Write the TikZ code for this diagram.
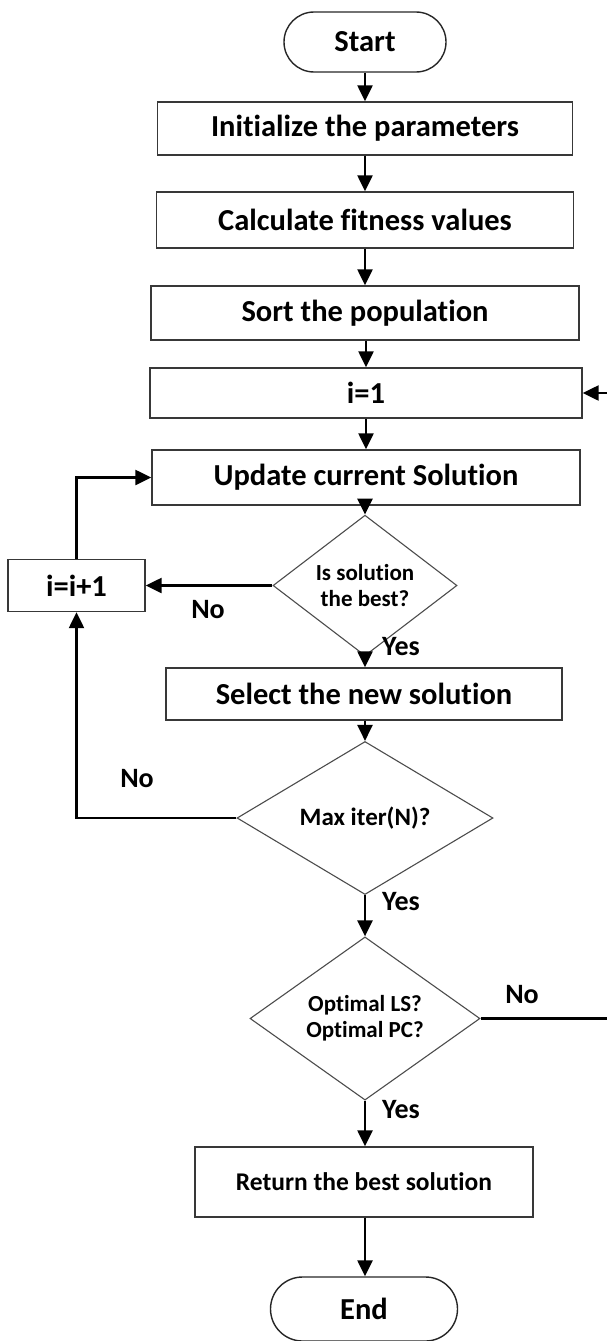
\documentclass[tikz,border=0pt]{standalone}
\usepackage{fontspec}
\setmainfont{Carlito}[Ligatures=NoCommon]
\usetikzlibrary{shapes.geometric, arrows.meta, positioning}

\begin{document}
\begin{tikzpicture}[x=1pt, y=-1pt,
    box/.style={draw=black!78, line width=1.4pt, inner sep=0pt, font=\bfseries\fontsize{30.5}{32}\selectfont},
    term/.style={box, draw=black!85, rounded corners=30pt},
    decide/.style={diamond, draw=black!70, line width=1.1pt, inner sep=0pt, align=center, font=\bfseries\fontsize{23}{26}\selectfont},
    lbl/.style={inner sep=0pt, font=\bfseries\fontsize{28}{30}\selectfont},
    conn/.style={line width=2.4pt, -{Triangle[width=15pt,length=16pt]}}]
    \useasboundingbox (0,0) rectangle (606,1341);

    \node[term, minimum width=162, minimum height=60] (start) at (365,42) {Start};
    \node[box, minimum width=415, minimum height=53] (init) at (365,128.5) {Initialize the parameters};
    \node[box, minimum width=417, minimum height=56] (calc) at (365,220) {Calculate fitness values};
    \node[box, minimum width=428, minimum height=54] (sort) at (365,313) {Sort the population};
    \node[box, minimum width=432, minimum height=50] (ione) at (366,393) {i=1};
    \node[box, minimum width=428, minimum height=55] (update) at (366,477.5) {Update current Solution};
    \node[decide, minimum width=184, minimum height=105] (best) at (365,585.5) {Is solution\\the best?};
    \node[box, minimum width=137, minimum height=52] (inc) at (76.5,585.5) {i=i+1};
    \node[box, minimum width=396, minimum height=52] (select) at (364,694) {Select the new solution};
    \node[decide, font=\bfseries\fontsize{25}{28}\selectfont, minimum width=256, minimum height=136] (maxit) at (365,818) {Max iter(N)?};
    \node[decide, minimum width=230, minimum height=137] (optim) at (365,1018.5) {Optimal LS?\\Optimal PC?};
    \node[box, font=\bfseries\fontsize{25.5}{28}\selectfont, minimum width=338, minimum height=70] (ret) at (364,1182) {Return the best solution};
    \node[term, rounded corners=32pt, minimum width=187, minimum height=64] (end) at (364,1309) {End};

    \node[lbl] (nobest) at (208,610) {No};
    \node[lbl, anchor=west] (yesbest) at (382,647) {Yes};
    \node[lbl] (nomax) at (137,779) {No};
    \node[lbl, anchor=west] (yesmax) at (382,902) {Yes};
    \node[lbl] (noopt) at (522,995) {No};
    \node[lbl, anchor=west] (yesopt) at (382,1110) {Yes};
    \coordinate (back) at (622,393);

    \draw[conn] (start) -- (init);
    \draw[conn] (init) -- (calc);
    \draw[conn] (calc) -- (sort);
    \draw[conn] (sort.south -| ione) -- (ione);
    \draw[conn] (ione) -- (update.north -| ione);
    \draw[conn] (update.south -| best) -- (best);
    \draw[conn] (best) -- (select.north -| best);
    \draw[conn] (best.west) -- (inc.east);
    \draw[conn] (inc.north) |- (update.west);
    \draw[conn] (select.south -| maxit) -- (maxit);
    \draw[conn] (maxit.west) -| (inc.south);
    \draw[conn] (maxit) -- (optim);
    \draw[conn] (optim) -- (ret.north -| optim);
    \draw[conn] (ret.south -| optim) -- (end.north -| optim);
    \draw[conn] (optim.east) -| (back) -- (ione.east);
\end{tikzpicture}
\end{document}
